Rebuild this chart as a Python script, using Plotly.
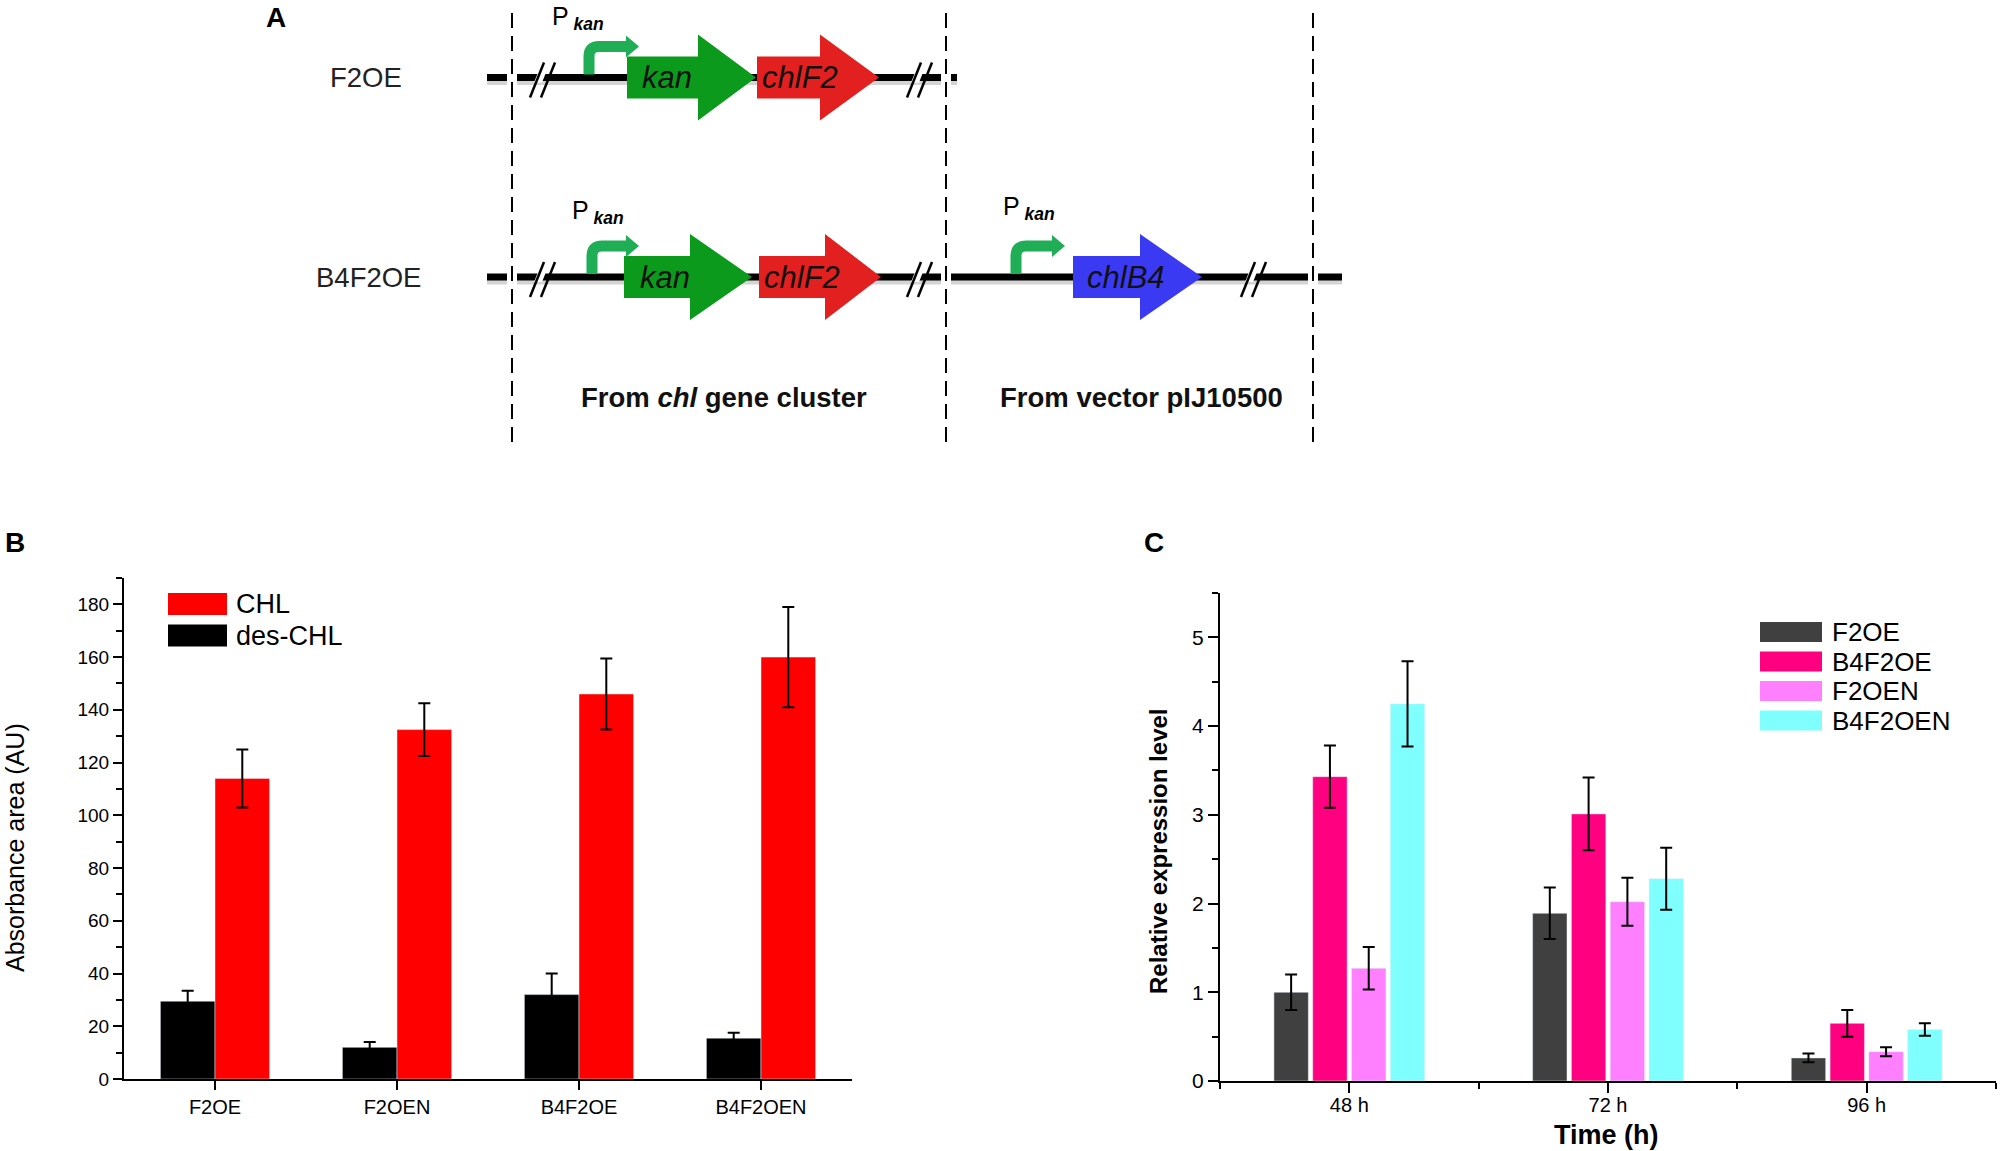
import plotly.graph_objects as go

W, H = 2000, 1151
FONT = "Liberation Sans, Arial, sans-serif"

# ---- panel B data ----
strains = ["F2OE", "F2OEN", "B4F2OE", "B4F2OEN"]
des_chl = [29.5, 12.0, 32.0, 15.5]
des_chl_err = [4.0, 2.0, 8.0, 2.0]
chl = [114.0, 132.5, 146.0, 160.0]
chl_err = [11.0, 10.0, 13.5, 19.0]

# ---- panel C data ----
times = ["48 h", "72 h", "96 h"]
c_names = ["F2OE", "B4F2OE", "F2OEN", "B4F2OEN"]
f2oe = [1.0, 1.89, 0.26]
f2oe_err = [0.2, 0.29, 0.05]
b4f2oe = [3.43, 3.01, 0.65]
b4f2oe_err = [0.35, 0.41, 0.15]
f2oen = [1.27, 2.02, 0.33]
f2oen_err = [0.24, 0.27, 0.05]
b4f2oen = [4.25, 2.28, 0.58]
b4f2oen_err = [0.48, 0.35, 0.07]

b_colors = {"des-CHL": "#000000", "CHL": "#ff0000"}
c_colors = ["#404040", "#ff0080", "#ff80ff", "#80ffff"]


def px(x):
    return x / W


def py(y):
    return 1 - y / H


shapes = []
annotations = []


def add_line(x0, y0, x1, y1, color="black", width=2, dash=None):
    ln = dict(color=color, width=width)
    if dash:
        ln["dash"] = dash
    shapes.append(dict(type="line", xref="paper", yref="paper",
                       x0=px(x0), y0=py(y0), x1=px(x1), y1=py(y1), line=ln, layer="above"))


def add_poly(pts, fill, closed=True, lcolor=None, lwidth=0):
    d = "M " + " L ".join(f"{px(x):.5f},{py(y):.5f}" for x, y in pts)
    if closed:
        d += " Z"
    shapes.append(dict(type="path", xref="paper", yref="paper", path=d,
                       fillcolor=fill, line=dict(color=lcolor or fill, width=lwidth), layer="above"))


def add_text(x, y, text, size, color="black", xanchor="center", yanchor="middle", angle=0):
    annotations.append(dict(xref="paper", yref="paper", x=px(x), y=py(y), text=text,
                            showarrow=False, xanchor=xanchor, yanchor=yanchor, textangle=angle,
                            font=dict(family=FONT, size=size, color=color)))


def gene(x0, x1, x2, yc, color, label, tx):
    pts = [(x0, yc - 21), (x1, yc - 21), (x1, yc - 43), (x2, yc), (x1, yc + 43), (x1, yc + 21), (x0, yc + 21)]
    add_poly(pts, color)
    add_text(tx, yc, f"<i>{label}</i>", 31, "#111111")


def promoter(xs, yline, xhead, px_left, ptop):
    arm = yline - 31
    r = 10
    d = (f"M {px(xs):.5f},{py(yline - 3):.5f} L {px(xs):.5f},{py(arm + r):.5f} "
         f"Q {px(xs):.5f},{py(arm):.5f} {px(xs + r):.5f},{py(arm):.5f} L {px(xhead):.5f},{py(arm):.5f}")
    shapes.append(dict(type="path", xref="paper", yref="paper", path=d,
                       fillcolor="rgba(0,0,0,0)", line=dict(color="#1fae55", width=11), layer="above"))
    add_poly([(xhead - 1, arm - 11), (xhead + 12, arm), (xhead - 1, arm + 11)], "#1fae55")
    add_text(px_left, ptop, "P<sub> <b><i>kan</i></b></sub>", 25, "black", "left", "top")


def brk(xb, y):
    add_poly([(xb - 9, y + 5), (xb - 1, y + 5), (xb + 3, y - 5), (xb - 5, y - 5)], "white")
    add_line(xb - 13, y + 20, xb + 1, y - 15, width=2.5)
    add_line(xb - 2, y + 20, xb + 12, y - 15, width=2.5)


def dna(segs, y):
    for a, b in segs:
        add_line(a, y + 5, b, y + 5, color="#d4d4d4", width=5)
    for a, b in segs:
        add_line(a, y, b, y, color="black", width=7)


# ---- panel A schematic ----
for xd in (512, 946, 1313):
    add_line(xd, 13, xd, 444, width=2, dash="15px,8px")

y1, y2 = 77.5, 277
dna([(487, 507), (517, 941), (951, 957)], y1)
dna([(487, 507), (517, 941), (951, 1308), (1318, 1342)], y2)
for xb in (543, 920):
    brk(xb, y1)
for xb in (543, 920, 1254):
    brk(xb, y2)

gene(627, 698, 756, y1, "#0b9a1c", "kan", 667)
gene(757, 820, 879, y1, "#e1201f", "chlF2", 800)
gene(624, 690, 752, y2, "#0b9a1c", "kan", 665)
gene(759, 825, 881, y2, "#e1201f", "chlF2", 802)
gene(1073, 1140, 1202, y2, "#3a3af2", "chlB4", 1126)

promoter(589, y1, 627, 550, 0)
promoter(592, y2, 627, 570, 194)
promoter(1016, y2, 1053, 1001, 190)

add_text(366, y1, "F2OE", 27.5, "#222222")
add_text(368, y2, "B4F2OE", 27.5, "#222222")
add_text(724, 397, "<b>From <i>chl</i> gene cluster</b>", 27.5, "#111111")
add_text(1141, 397, "<b>From vector pIJ10500</b>", 27.5, "#111111")

# panel letters
add_text(276, 18, "<b>A</b>", 28)
add_text(15, 542, "<b>B</b>", 28)
add_text(1154, 542, "<b>C</b>", 28)

# axis titles
add_text(15, 848, "Absorbance area (AU)", 25, angle=-90)
add_text(1158, 851, "<b>Relative expression level</b>", 24, angle=-90)
add_text(1606, 1135, "<b>Time (h)</b>", 27)

# legends drawn as swatches
b_leg = [("CHL", b_colors["CHL"], 604), ("des-CHL", b_colors["des-CHL"], 635.5)]
for name, col, yc in b_leg:
    add_poly([(168, yc - 11), (227, yc - 11), (227, yc + 11), (168, yc + 11)], col)
    add_text(234, yc, name, 27, "black", "left")
for i, (name, col) in enumerate(zip(c_names, c_colors)):
    yc = 632 + i * 29.5
    add_poly([(1760, yc - 10), (1822, yc - 10), (1822, yc + 10), (1760, yc + 10)], col)
    add_text(1830, yc, name, 26, "black", "left")

# ---- traces ----
fig = go.Figure()
err_style = dict(type="data", color="black", thickness=2, width=6, visible=True)

fig.add_trace(go.Bar(x=strains, y=des_chl, name="des-CHL", marker_color=b_colors["des-CHL"],
                     error_y=dict(array=des_chl_err, **err_style), xaxis="x", yaxis="y"))
fig.add_trace(go.Bar(x=strains, y=chl, name="CHL", marker_color=b_colors["CHL"],
                     error_y=dict(array=chl_err, **err_style), xaxis="x", yaxis="y"))

c_vals = [f2oe, b4f2oe, f2oen, b4f2oen]
c_errs = [f2oe_err, b4f2oe_err, f2oen_err, b4f2oen_err]
xpos = list(range(len(times)))
for name, vals, errs, col in zip(c_names, c_vals, c_errs, c_colors):
    fig.add_trace(go.Bar(x=xpos, y=vals, name=name, marker_color=col, width=0.133,
                         error_y=dict(array=errs, **err_style), xaxis="x2", yaxis="y2"))

axis_common = dict(showline=True, linecolor="black", linewidth=2, ticks="outside", tickwidth=2,
                   tickcolor="black", showgrid=False, zeroline=False, automargin=False)


def tfont(size):
    return dict(family=FONT, size=size, color="black")


fig.update_layout(
    width=W, height=H,
    margin=dict(l=0, r=0, t=0, b=0),
    paper_bgcolor="white", plot_bgcolor="white",
    showlegend=False,
    barmode="group", bargap=0.4, bargroupgap=0,
    font=dict(family=FONT, color="black"),
    xaxis=dict(domain=[124 / W, 852 / W], anchor="y", type="category", range=[-0.5, 3.5],
               ticklen=9, tickfont=tfont(20), **axis_common),
    yaxis=dict(domain=[1 - 1079 / H, 1 - 578 / H], anchor="x", range=[0, 190], dtick=20, ticklen=9,
               tickfont=tfont(19),
               minor=dict(dtick=10, ticks="outside", ticklen=6, tickwidth=2, tickcolor="black"),
               **axis_common),
    xaxis2=dict(domain=[1220 / W, 1996 / W], anchor="y2", range=[-0.5, 2.5],
                tickmode="array", tickvals=xpos, ticktext=times, ticklen=10, tickfont=tfont(20),
                ticklabelstandoff=-5,
                minor=dict(tickmode="linear", tick0=-0.5, dtick=1, ticks="outside", ticklen=6,
                           tickwidth=2, tickcolor="black"),
                **axis_common),
    yaxis2=dict(domain=[1 - 1081 / H, 1 - 593 / H], anchor="x2", range=[0, 5.5], dtick=1, ticklen=10,
                tickfont=tfont(21),
                minor=dict(dtick=0.5, ticks="outside", ticklen=6, tickwidth=2, tickcolor="black"),
                **axis_common),
    shapes=shapes,
    annotations=annotations,
)

fig.write_html("out.html", config={"displayModeBar": False},
               post_script="document.body.style.margin='0';")
